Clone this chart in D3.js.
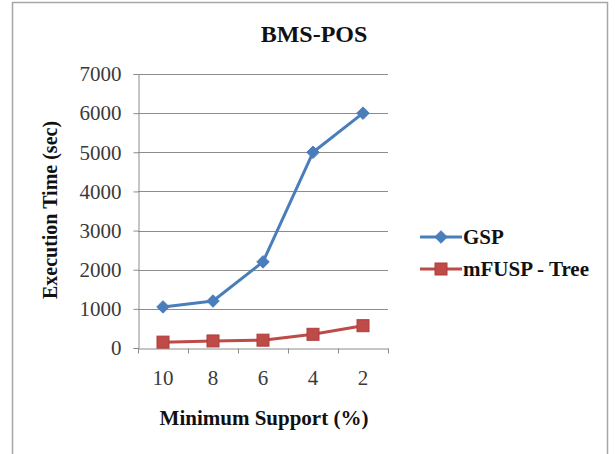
<!DOCTYPE html>
<html>
<head>
<meta charset="utf-8">
<script src="https://cdn.jsdelivr.net/npm/d3@7"></script>
<style>
  html, body { margin: 0; padding: 0; background: #fff; }
  svg { display: block; }
  text { font-family: "Liberation Serif", "Times New Roman", serif; }
</style>
</head>
<body>
<svg id="chart" width="615" height="454"></svg>
<script>
// Minimum support thresholds (%) along the x axis
const categories = ["10", "8", "6", "4", "2"];
// Execution time in seconds
const gspValues = [1050, 1200, 2200, 5000, 6000];
const mfuspValues = [150, 180, 200, 350, 570];
const yTicks = [0, 1000, 2000, 3000, 4000, 5000, 6000, 7000];
const seriesNames = ["GSP", "mFUSP - Tree"];

const series = [
  { name: seriesNames[0], values: gspValues, color: "#4a7ebb", marker: "diamond" },
  { name: seriesNames[1], values: mfuspValues, color: "#be4b48", marker: "square" }
];

const svg = d3.select("#chart");

// outer chart frame
svg.append("rect")
  .attr("x", 12.5).attr("y", 2.5)
  .attr("width", 595).attr("height", 470)
  .attr("fill", "#fff")
  .attr("stroke", "#a6a6a6").attr("stroke-width", 1.5);

const plot = { left: 138, right: 388, top: 74, bottom: 348 };

const x = d3.scaleBand().domain(categories).range([plot.left, plot.right]);
const y = d3.scaleLinear().domain([0, 7000]).range([plot.bottom, plot.top]);

// horizontal gridlines
svg.append("g")
  .selectAll("line")
  .data(yTicks.filter(d => d > 0))
  .join("line")
  .attr("x1", plot.left).attr("x2", plot.right)
  .attr("y1", d => Math.round(y(d)) + 0.5).attr("y2", d => Math.round(y(d)) + 0.5)
  .attr("stroke", "#8c8c8c").attr("stroke-width", 1);

// y axis
const yAxis = svg.append("g")
  .attr("transform", `translate(${plot.left + 0.5},0)`)
  .call(d3.axisLeft(y).tickValues(yTicks).tickSize(5).tickPadding(12).tickFormat(d3.format("d")));
yAxis.select(".domain").attr("stroke", "#8c8c8c");
yAxis.selectAll(".tick line").attr("stroke", "#8c8c8c");
yAxis.selectAll(".tick text")
  .attr("font-size", 21)
  .attr("fill", "#3a3a3a")
  .attr("font-family", "Liberation Serif, serif");

// x axis with ticks on category boundaries
const xAxis = svg.append("g")
  .attr("transform", `translate(0,${plot.bottom + 0.5})`)
  .call(d3.axisBottom(x).tickSize(0).tickPadding(22));
xAxis.select(".domain").attr("stroke", "#8c8c8c");
xAxis.selectAll(".tick text")
  .attr("font-size", 21)
  .attr("fill", "#3a3a3a")
  .attr("font-family", "Liberation Serif, serif");
xAxis.selectAll(".boundary")
  .data(categories.map(c => x(c)).concat([x(categories[categories.length - 1]) + x.bandwidth()]))
  .join("line")
  .attr("class", "boundary")
  .attr("x1", d => Math.round(d) + 0.5).attr("x2", d => Math.round(d) + 0.5)
  .attr("y1", 0).attr("y2", 5)
  .attr("stroke", "#8c8c8c");

const cx = c => x(c) + x.bandwidth() / 2;

const line = d3.line()
  .x((d, i) => cx(categories[i]))
  .y(d => y(d));

function drawMarker(g, type, color, px, py) {
  if (type === "diamond") {
    g.append("path")
      .attr("d", d3.symbol(d3.symbolDiamond2, 100)())
      .attr("transform", `translate(${px},${py})`)
      .attr("fill", color).attr("stroke", color).attr("stroke-width", 1);
  } else {
    g.append("rect")
      .attr("x", px - 6).attr("y", py - 6)
      .attr("width", 12).attr("height", 12)
      .attr("fill", color).attr("stroke", "#b03c39").attr("stroke-width", 1);
  }
}

series.forEach(s => {
  const g = svg.append("g");
  g.append("path")
    .datum(s.values)
    .attr("d", line)
    .attr("fill", "none")
    .attr("stroke", s.color)
    .attr("stroke-width", 3)
    .attr("stroke-linejoin", "round");
  s.values.forEach((v, i) => drawMarker(g, s.marker, s.color, cx(categories[i]), y(v)));
});

// title
svg.append("text")
  .attr("x", 314).attr("y", 42)
  .attr("text-anchor", "middle")
  .attr("font-size", 24).attr("font-weight", "bold")
  .attr("fill", "#111")
  .text("BMS-POS");

// axis titles
svg.append("text")
  .attr("transform", "translate(57,210) rotate(-90)")
  .attr("text-anchor", "middle")
  .attr("font-size", 20).attr("font-weight", "bold")
  .attr("fill", "#111")
  .text("Execution Time (sec)");

svg.append("text")
  .attr("x", 264).attr("y", 425)
  .attr("text-anchor", "middle")
  .attr("font-size", 21).attr("font-weight", "bold")
  .attr("fill", "#111")
  .text("Minimum Support (%)");

// legend
const legend = svg.append("g");
series.forEach((s, i) => {
  const ly = 237 + i * 32;
  legend.append("line")
    .attr("x1", 420).attr("x2", 462)
    .attr("y1", ly).attr("y2", ly)
    .attr("stroke", s.color).attr("stroke-width", 3);
  drawMarker(legend, s.marker, s.color, 441, ly);
  legend.append("text")
    .attr("x", 463).attr("y", ly + 7)
    .attr("font-size", 21).attr("font-weight", "bold")
    .attr("fill", "#111")
    .text(s.name);
});
</script>
</body>
</html>
